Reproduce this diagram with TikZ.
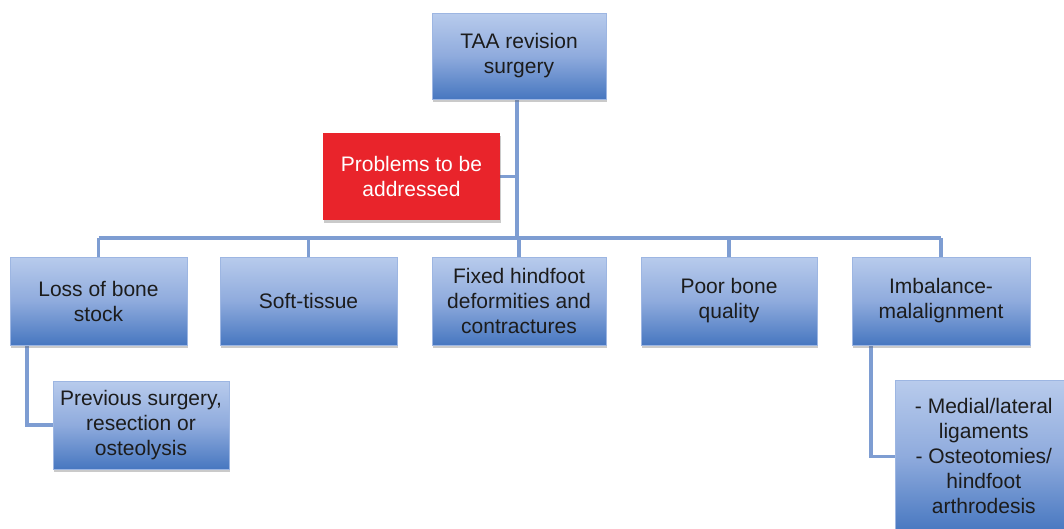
\documentclass[tikz,border=0pt]{standalone}
\usepackage{fontspec}
\setmainfont{Liberation Sans}
\usetikzlibrary{shadows,backgrounds}
\definecolor{boxtop}{HTML}{B8CBEC}
\definecolor{boxmid}{HTML}{8FABDD}
\definecolor{boxbot}{HTML}{4777C0}
\definecolor{boxedge}{HTML}{9DB6E2}
\definecolor{linkblue}{HTML}{7E9DD2}
\definecolor{alertred}{HTML}{E9242B}
\definecolor{inktext}{HTML}{1C1C1C}
\tikzset{
  x=1pt, y=1pt,
  bluebox/.style={rectangle, top color=boxtop, bottom color=boxbot, middle color=boxmid,
    draw=boxedge, line width=0.6pt, text=inktext, align=center,
    font=\fontsize{21}{25}\selectfont, inner sep=2pt,
    drop shadow={shadow xshift=1pt, shadow yshift=-3pt, opacity=0.35, fill=black!60}},
  redbox/.style={rectangle, fill=alertred, text=white, align=center,
    font=\fontsize{21}{25}\selectfont, inner sep=2pt,
    drop shadow={shadow xshift=1pt, shadow yshift=-3pt, opacity=0.35, fill=black!60}},
  link/.style={draw=linkblue, line width=3.6pt}
}
\begin{document}
\begin{tikzpicture}
\useasboundingbox (0,0) rectangle (1064,-528);
\clip (0,0) rectangle (1064,-528);

% top of the tree
\node[bluebox, minimum width=174, minimum height=86] (taa) at (519,-56) {TAA revision\\surgery};
\node[redbox, minimum width=177, minimum height=87] (prob) at (411.5,-176.5) {Problems to be\\addressed};

% problem categories
\node[bluebox, minimum width=177, minimum height=88] (loss)  at (98.5,-301)  {Loss of bone\\stock};
\node[bluebox, minimum width=177, minimum height=88] (soft)  at (308.5,-301) {Soft-tissue};
\node[bluebox, minimum width=174, minimum height=88] (fixed) at (519,-301)   {Fixed hindfoot\\deformities and\\contractures};
\node[bluebox, minimum width=176, minimum height=88] (poor)  at (729,-301)   {Poor bone\\quality};
\node[bluebox, minimum width=178, minimum height=88] (imb)   at (941,-301)   {Imbalance-\\malalignment};

% details
\node[bluebox, minimum width=176, minimum height=88] (prev) at (141,-425) {Previous surgery,\\resection or\\osteolysis};
\node[bluebox, minimum width=177, minimum height=152, anchor=north west] (med) at (895,-380)
  {- Medial/lateral\\ligaments\\- Osteotomies/\\hindfoot\\arthrodesis};

\coordinate (bus) at (517,-238);

\begin{pgfonlayer}{background}
  \draw[link] (bus |- taa.south) -- (bus);
  \draw[link] (prob.east) -- (prob.east -| bus);
  \draw[link] (loss.north |- bus) -- (imb.north |- bus);
  \foreach \n in {loss,soft,fixed,poor,imb}
    \draw[link] (\n.north |- bus) -- (\n.north);
  \draw[link] ([xshift=-71.5]loss.south) |- (prev.west);
  \draw[link] ([xshift=-70]imb.south) |- (med.west);
\end{pgfonlayer}
\end{tikzpicture}
\end{document}
